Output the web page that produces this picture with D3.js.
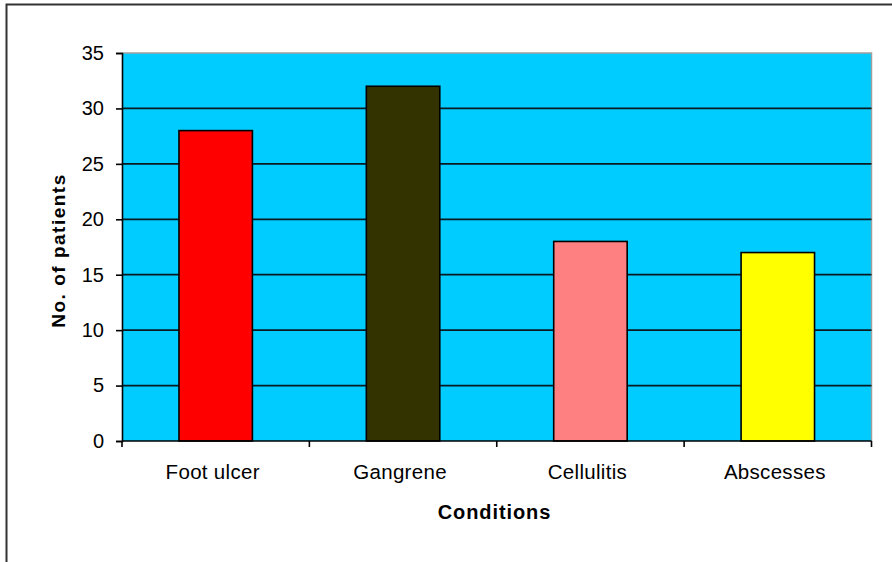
<!DOCTYPE html>
<html>
<head>
<meta charset="utf-8">
<script src="https://cdn.jsdelivr.net/npm/d3@7"></script>
<style>
  html, body { margin: 0; padding: 0; background: #fff; }
  svg { display: block; }
  text { font-family: Arial, "Liberation Sans", sans-serif; fill: #000; }
</style>
</head>
<body>
<svg id="chart" width="892" height="562"></svg>
<script>
// Diabetic foot complications: number of patients per condition
const categories = ["Foot ulcer", "Gangrene", "Cellulitis", "Abscesses"];
const patients = [28, 32, 18, 17];
const barColors = ["#FF0000", "#333300", "#FF8080", "#FFFF00"];
const yTicks = [0, 5, 10, 15, 20, 25, 30, 35];

const svg = d3.select("#chart");
const plot = { left: 122, right: 871.5, top: 53, bottom: 441 };

// Chart frame
svg.append("rect")
  .attr("x", 6.5).attr("y", 4.5)
  .attr("width", 900).attr("height", 600)
  .attr("fill", "#fff")
  .attr("stroke", "#333").attr("stroke-width", 2);

const x = d3.scaleBand()
  .domain(categories)
  .range([plot.left, plot.right])
  .paddingInner(0).paddingOuter(0);

const y = d3.scaleLinear()
  .domain([0, 35])
  .range([plot.bottom, plot.top]);

// Plot area background
svg.append("rect")
  .attr("x", plot.left).attr("y", plot.top)
  .attr("width", plot.right - plot.left)
  .attr("height", plot.bottom - plot.top)
  .attr("fill", "#00CCFF");

// Plot area top and right border
svg.append("path")
  .attr("d", `M${plot.left},${plot.top}H${plot.right}V${plot.bottom}`)
  .attr("fill", "none")
  .attr("stroke", "#A0A0A0").attr("stroke-width", 1.5);

// Horizontal gridlines
svg.append("g")
  .selectAll("line")
  .data(yTicks.filter(d => d > 0 && d < 35))
  .join("line")
  .attr("x1", plot.left).attr("x2", plot.right)
  .attr("y1", d => y(d)).attr("y2", d => y(d))
  .attr("stroke", "#0a1a20").attr("stroke-width", 1.7);

// Bars
const barW = x.bandwidth() * 0.392;
svg.append("g")
  .selectAll("rect")
  .data(categories)
  .join("rect")
  .attr("x", d => x(d) + x.bandwidth() / 2 - barW / 2)
  .attr("y", (d, i) => y(patients[i]))
  .attr("width", barW)
  .attr("height", (d, i) => y(0) - y(patients[i]))
  .attr("fill", (d, i) => barColors[i])
  .attr("stroke", "#000").attr("stroke-width", 1.6);

// Y axis
const yAxis = d3.axisLeft(y)
  .tickValues(yTicks)
  .tickSize(6)
  .tickPadding(12)
  .tickFormat(d3.format("d"));
const gy = svg.append("g")
  .attr("transform", `translate(${plot.left},0)`)
  .call(yAxis);
gy.select(".domain").attr("stroke", "#000").attr("stroke-width", 1.6);
gy.selectAll(".tick line").attr("stroke", "#000").attr("stroke-width", 1.6);
gy.selectAll(".tick text")
  .attr("font-family", "Arial, 'Liberation Sans', sans-serif")
  .attr("font-size", 20)
  .attr("fill", "#000");

// X axis: ticks at category boundaries, labels at category centres
const boundaries = categories.map(c => x(c)).concat([plot.right]);
svg.append("line")
  .attr("x1", plot.left).attr("x2", plot.right)
  .attr("y1", plot.bottom).attr("y2", plot.bottom)
  .attr("stroke", "#000").attr("stroke-width", 1.6);
svg.append("g")
  .selectAll("line")
  .data(boundaries)
  .join("line")
  .attr("x1", d => d).attr("x2", d => d)
  .attr("y1", plot.bottom).attr("y2", plot.bottom + 6)
  .attr("stroke", "#000").attr("stroke-width", 1.6);
svg.append("g")
  .selectAll("text")
  .data(categories)
  .join("text")
  .attr("x", d => x(d) + x.bandwidth() / 2 - 3)
  .attr("y", 479)
  .attr("text-anchor", "middle")
  .attr("font-size", 20.5)
  .attr("letter-spacing", 0.3)
  .text(d => d);

// Axis titles
svg.append("text")
  .attr("x", 494.5).attr("y", 519)
  .attr("text-anchor", "middle")
  .attr("font-size", 20)
  .attr("font-weight", "bold")
  .attr("letter-spacing", 0.9)
  .text("Conditions");

svg.append("text")
  .attr("transform", "translate(65,250.5) rotate(-90)")
  .attr("text-anchor", "middle")
  .attr("font-size", 19)
  .attr("font-weight", "bold")
  .attr("letter-spacing", 1.5)
  .text("No. of patients");
</script>
</body>
</html>
